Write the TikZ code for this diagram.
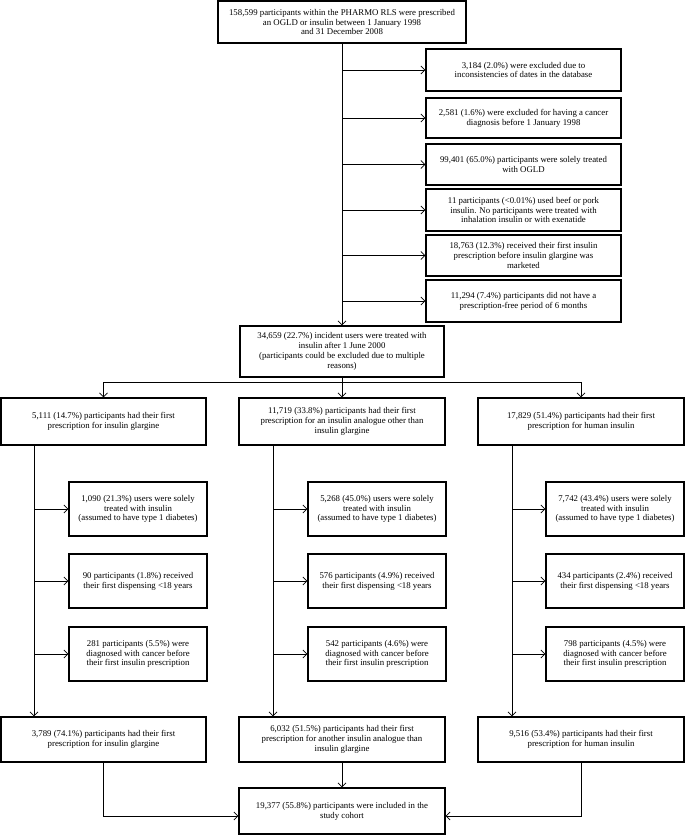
\documentclass[tikz,border=0pt]{standalone}
\usepackage{fontspec}
\setmainfont{Liberation Serif}
\usetikzlibrary{arrows.meta}
\begin{document}
\begin{tikzpicture}[x=1pt,y=-1pt,
  box/.style={draw, line width=1.1pt, align=center, inner sep=0pt,
    font=\fontsize{8.8}{9.8}\selectfont},
  conn/.style={line width=0.8pt},
  arr/.style={conn, -{Straight Barb[length=4pt,width=8pt,line width=0.8pt]}}]
\useasboundingbox (0,0) rectangle (685,835);
% top
\node[box, minimum width=248pt, minimum height=42pt] (top) at (342,22) {158,599 participants within the PHARMO RLS were prescribed\\ an OGLD or insulin between 1 January 1998\\ and 31 December 2008};
% exclusions right
\node[box, minimum width=195pt, minimum height=42pt] (e1) at (523.5,70) {3,184 (2.0\%) were excluded due to\\ inconsistencies of dates in the database};
\node[box, minimum width=195pt, minimum height=40pt] (e2) at (523.5,118) {2,581 (1.6\%) were excluded for having a cancer\\ diagnosis before 1 January 1998};
\node[box, minimum width=195pt, minimum height=41pt] (e3) at (523.5,164.5) {99,401 (65.0\%) participants were solely treated\\ with OGLD};
\node[box, minimum width=195pt, minimum height=42pt] (e4) at (523.5,210) {11 participants (<0.01\%) used beef or pork\\ insulin. No participants were treated with\\ inhalation insulin or with exenatide};
\node[box, minimum width=195pt, minimum height=41pt] (e5) at (523.5,255.5) {18,763 (12.3\%) received their first insulin\\ prescription before insulin glargine was\\ marketed};
\node[box, minimum width=195pt, minimum height=42pt] (e6) at (523.5,301) {11,294 (7.4\%) participants did not have a\\ prescription-free period of 6 months};
% middle
\node[box, minimum width=204pt, minimum height=51pt] (mid) at (342,351.5) {34,659 (22.7\%) incident users were treated with\\ insulin after 1 June 2000\\ (participants could be excluded due to multiple\\ reasons)};
% three groups
\node[box, minimum width=205pt, minimum height=47pt] (a1) at (103.5,421.5) {5,111 (14.7\%) participants had their first\\ prescription for insulin glargine};
\node[box, minimum width=206pt, minimum height=47pt] (a2) at (342,421.5) {11,719 (33.8\%) participants had their first\\ prescription for an insulin analogue other than\\ insulin glargine};
\node[box, minimum width=206pt, minimum height=47pt] (a3) at (581,421.5) {17,829 (51.4\%) participants had their first\\ prescription for human insulin};
% group exclusions
\node[box, minimum width=138pt, minimum height=54pt] (b11) at (138,509) {1,090 (21.3\%) users were solely\\ treated with insulin\\ (assumed to have type 1 diabetes)};
\node[box, minimum width=138pt, minimum height=54pt] (b12) at (138,581) {90 participants (1.8\%) received\\ their first dispensing <18 years};
\node[box, minimum width=138pt, minimum height=54pt] (b13) at (138,654) {281 participants (5.5\%) were\\ diagnosed with cancer before\\ their first insulin prescription};
\node[box, minimum width=138pt, minimum height=54pt] (b21) at (377,509) {5,268 (45.0\%) users were solely\\ treated with insulin\\ (assumed to have type 1 diabetes)};
\node[box, minimum width=138pt, minimum height=54pt] (b22) at (377,581) {576 participants (4.9\%) received\\ their first dispensing <18 years};
\node[box, minimum width=138pt, minimum height=54pt] (b23) at (377,654) {542 participants (4.6\%) were\\ diagnosed with cancer before\\ their first insulin prescription};
\node[box, minimum width=138pt, minimum height=54pt] (b31) at (615,509) {7,742 (43.4\%) users were solely\\ treated with insulin\\ (assumed to have type 1 diabetes)};
\node[box, minimum width=138pt, minimum height=54pt] (b32) at (615,581) {434 participants (2.4\%) received\\ their first dispensing <18 years};
\node[box, minimum width=138pt, minimum height=54pt] (b33) at (615,654) {798 participants (4.5\%) were\\ diagnosed with cancer before\\ their first insulin prescription};
% final groups
\node[box, minimum width=205pt, minimum height=45pt] (c1) at (103.5,739.5) {3,789 (74.1\%) participants had their first\\ prescription for insulin glargine};
\node[box, minimum width=206pt, minimum height=45pt] (c2) at (342,739.5) {6,032 (51.5\%) participants had their first\\ prescription for another insulin analogue than\\ insulin glargine};
\node[box, minimum width=206pt, minimum height=45pt] (c3) at (581,739.5) {9,516 (53.4\%) participants had their first\\ prescription for human insulin};
\node[box, minimum width=206pt, minimum height=46pt] (fin) at (342,811) {19,377 (55.8\%) participants were included in the\\ study cohort};
% main trunk
\draw[arr] (top.south) -- (mid.north);
\foreach \e in {e1,e2,e3,e4,e5,e6}
  \draw[arr] (top.south |- \e.west) -- (\e.west);
% branching
\coordinate (br) at (342,382);
\draw[conn] (mid.south) -- (br);
\draw[arr] (br) -| (a1.north);
\draw[arr] (br) -| (a3.north);
\draw[arr] (br) -- (a2.north);
% group trunks
\coordinate (t1) at (34,445);
\coordinate (t2) at (273,445);
\coordinate (t3) at (512,445);
\draw[arr] (t1) -- (t1 |- c1.north);
\draw[arr] (t2) -- (t2 |- c2.north);
\draw[arr] (t3) -- (t3 |- c3.north);
\foreach \b in {b11,b12,b13} \draw[arr] (t1 |- \b.west) -- (\b.west);
\foreach \b in {b21,b22,b23} \draw[arr] (t2 |- \b.west) -- (\b.west);
\foreach \b in {b31,b32,b33} \draw[arr] (t3 |- \b.west) -- (\b.west);
% to final
\draw[arr] (c1.south) |- ([yshift=-5pt]fin.west);
\draw[arr] (c3.south) |- ([yshift=-5pt]fin.east);
\draw[arr] (c2.south) -- (fin.north);
\end{tikzpicture}
\end{document}
